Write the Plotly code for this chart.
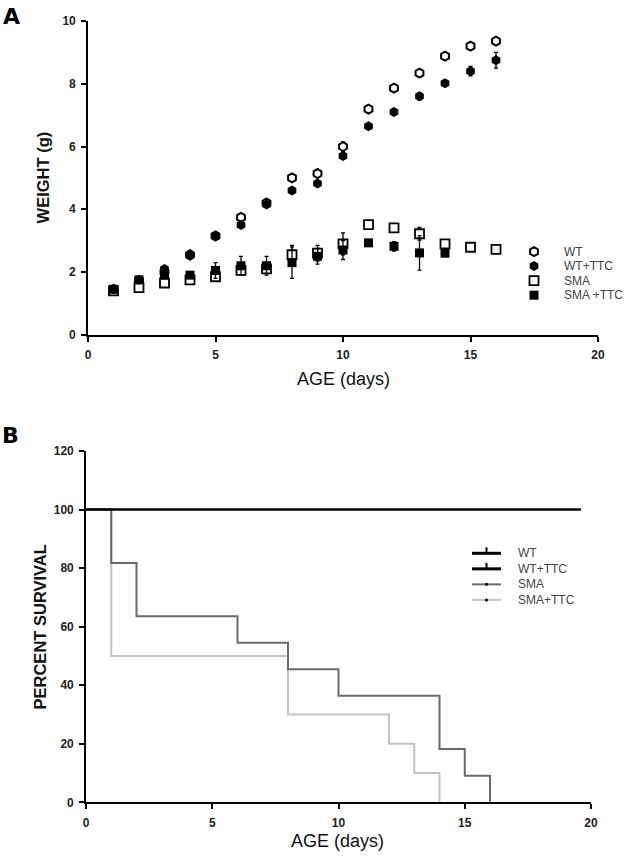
import plotly.graph_objects as go

W, H = 633, 858

# ---- Panel A data: weight (g) by age (days) ----
days = list(range(1, 17))
wt = [1.45, 1.7, 2.0, 2.55, 3.15, 3.74, 4.2, 5.0, 5.14, 6.0, 7.19, 7.86, 8.34, 8.88, 9.2, 9.36]
wt_err = [0, 0, 0, 0, 0, 0.1, 0, 0, 0, 0.15, 0, 0, 0, 0, 0, 0]
wt_ttc = [1.45, 1.75, 2.1, 2.52, 3.13, 3.5, 4.15, 4.6, 4.82, 5.7, 6.65, 7.1, 7.6, 8.02, 8.4, 8.75]
wt_ttc_err = [0, 0, 0, 0, 0, 0, 0, 0, 0, 0, 0, 0.05, 0.12, 0, 0.15, 0.25]
sma = [1.4, 1.5, 1.65, 1.75, 1.85, 2.05, 2.1, 2.55, 2.6, 2.9, 3.51, 3.41, 3.22, 2.9, 2.79, 2.72]
sma_err = [0, 0, 0, 0, 0.15, 0, 0, 0.3, 0.25, 0.35, 0, 0, 0.2, 0, 0, 0]
sma_ttc = [1.45, 1.75, 1.9, 1.9, 2.05, 2.2, 2.2, 2.3, 2.5, 2.7, 2.93, 2.82, 2.61, 2.6]
sma_ttc_err = [0, 0, 0.1, 0, 0.25, 0.3, 0.3, 0.5, 0.25, 0.3, 0.1, 0.15, 0.55, 0.1]
legendA_labels = ["WT", "WT+TTC", "SMA", "SMA +TTC"]

# ---- Panel B data: Kaplan-Meier survival ----
wt_t = [0, 19.6]
wt_s = [100, 100]
sma_t = [0, 1, 2, 6, 8, 10, 14, 15, 16]
sma_s = [100, 81.8, 63.6, 54.5, 45.5, 36.4, 18.2, 9.1, 0]
smattc_t = [0, 1, 8, 12, 13, 14]
smattc_s = [100, 50, 30, 20, 10, 0]
legendB_labels = ["WT", "WT+TTC", "SMA", "SMA+TTC"]

xticks = [0, 5, 10, 15, 20]
yticksA = [0, 2, 4, 6, 8, 10]
yticksB = [0, 20, 40, 60, 80, 100, 120]

# observed inset of the drawing area inside the page (pixels)
IL, IR, IT, IB = 4, 6, 8, 8

def px(x):
    return (x - IL) / (W - IL - IR)

def py(y):
    return 1 - (y - IT) / (H - IT - IB)

fig = go.Figure()

def err(arr):
    return dict(type="data", array=arr, visible=True, color="black", thickness=1.3, width=2)

# Panel A traces
styleA = {
    "WT": dict(symbol="hexagon", size=9, color="white", line=dict(color="black", width=2)),
    "SMA": dict(symbol="square", size=9, color="white", line=dict(color="black", width=1.8)),
    "WT+TTC": dict(symbol="hexagon", size=10, color="black", line=dict(color="black", width=0)),
    "SMA +TTC": dict(symbol="square", size=9, color="black", line=dict(color="black", width=0)),
}
fig.add_trace(go.Scatter(x=days, y=wt, mode="markers", error_y=err(wt_err), marker=styleA["WT"],
                         xaxis="x", yaxis="y", cliponaxis=False))
fig.add_trace(go.Scatter(x=days, y=sma, mode="markers", error_y=err(sma_err), marker=styleA["SMA"],
                         xaxis="x", yaxis="y", cliponaxis=False))
fig.add_trace(go.Scatter(x=days, y=wt_ttc, mode="markers", error_y=err(wt_ttc_err), marker=styleA["WT+TTC"],
                         xaxis="x", yaxis="y", cliponaxis=False))
fig.add_trace(go.Scatter(x=days[:len(sma_ttc)], y=sma_ttc, mode="markers", error_y=err(sma_ttc_err),
                         marker=styleA["SMA +TTC"], xaxis="x", yaxis="y", cliponaxis=False))

# Panel B traces
colB = {"WT": "black", "WT+TTC": "black", "SMA": "#6a6a6a", "SMA+TTC": "#c4c4c4"}
fig.add_trace(go.Scatter(x=smattc_t, y=smattc_s, mode="lines", line=dict(color=colB["SMA+TTC"], width=2, shape="hv"),
                         xaxis="x2", yaxis="y2"))
fig.add_trace(go.Scatter(x=sma_t, y=sma_s, mode="lines", line=dict(color=colB["SMA"], width=2, shape="hv"),
                         xaxis="x2", yaxis="y2"))
fig.add_trace(go.Scatter(x=wt_t, y=wt_s, mode="lines", line=dict(color=colB["WT"], width=2.5, shape="hv"),
                         xaxis="x2", yaxis="y2"))

# ---- Legends (compact rows, drawn on a pixel overlay axis) ----
legA_x, legA_text_x, legA_y0, legA_dy = 535, 563, 252, 14.5
legB_x0, legB_x1, legB_text_x, legB_y0, legB_dy = 473, 502, 517, 553, 15.5

for i, lab in enumerate(legendA_labels):
    yy = legA_y0 + i * legA_dy
    fig.add_trace(go.Scatter(x=[legA_x], y=[yy], mode="markers", marker=styleA[lab],
                             xaxis="x3", yaxis="y3", cliponaxis=False))
    fig.add_annotation(text=lab, x=px(legA_text_x), y=py(yy), xref="paper", yref="paper",
                       xanchor="left", yanchor="middle", showarrow=False,
                       font=dict(family="Liberation Sans, Arial", size=12, color="#444444"))

for i, lab in enumerate(legendB_labels):
    yy = legB_y0 + i * legB_dy
    xm = (legB_x0 + legB_x1) / 2
    wdt = 3 if i < 2 else 2
    fig.add_trace(go.Scatter(x=[legB_x0, legB_x1], y=[yy, yy], mode="lines",
                             line=dict(color=colB[lab], width=wdt), xaxis="x3", yaxis="y3"))
    if i < 2:
        fig.add_trace(go.Scatter(x=[xm, xm], y=[yy, yy - 6], mode="lines",
                                 line=dict(color="black", width=2), xaxis="x3", yaxis="y3"))
    else:
        fig.add_trace(go.Scatter(x=[xm], y=[yy], mode="markers",
                                 marker=dict(symbol="circle", size=3, color="black"), xaxis="x3", yaxis="y3"))
    fig.add_annotation(text=lab, x=px(legB_text_x), y=py(yy), xref="paper", yref="paper",
                       xanchor="left", yanchor="middle", showarrow=False,
                       font=dict(family="Liberation Sans, Arial", size=12, color="#444444"))

axis_common = dict(showgrid=False, zeroline=False, showline=True, linecolor="black", linewidth=1.6,
                   ticks="outside", ticklen=5, tickwidth=1.6, tickcolor="black", mirror=False,
                   ticklabelstandoff=3,
                   tickfont=dict(family="Liberation Sans, Arial", size=12, color="#222222", weight="bold"))

fig.update_layout(
    width=W, height=H, margin=dict(l=0, r=0, t=0, b=0),
    paper_bgcolor="white", plot_bgcolor="rgba(0,0,0,0)", showlegend=False,
    xaxis=dict(domain=[px(89), px(599)], range=[0, 20], tickvals=xticks, anchor="y", **axis_common),
    yaxis=dict(domain=[py(335), py(22)], range=[0, 10], tickvals=yticksA, anchor="x", **axis_common),
    xaxis2=dict(domain=[px(87), px(592)], range=[0, 20], tickvals=xticks, anchor="y2", **axis_common),
    yaxis2=dict(domain=[py(801.5), py(451)], range=[0, 120], tickvals=yticksB, anchor="x2", **axis_common),
    xaxis3=dict(domain=[0, 1], range=[IL, W - IR], visible=False, fixedrange=True, anchor="y3"),
    yaxis3=dict(domain=[0, 1], range=[H - IB, IT], visible=False, fixedrange=True, anchor="x3"),
)

ann_font = dict(family="Liberation Sans, Arial", color="#111111")
def ann(text, x, y, size, angle=0, family=None, color=None):
    f = dict(size=size, **ann_font)
    if family:
        f["family"] = family
    if color:
        f["color"] = color
    fig.add_annotation(text=text, x=px(x), y=py(y), xref="paper", yref="paper",
                       xanchor="center", yanchor="middle", showarrow=False, textangle=angle, font=f)

ann("<b>WEIGHT (g)</b>", 44, 178, 16.5, angle=-90)
ann("AGE (days)", 344, 379, 18)
ann("<b>PERCENT SURVIVAL</b>", 41, 627, 16.5, angle=-90)
ann("AGE (days)", 338, 840, 18)
ann("<b>A</b>", 12, 17, 22, family="DejaVu Sans", color="black")
ann("<b>B</b>", 11, 435, 22, family="DejaVu Sans", color="black")

fig.write_html("out.html", config={"displayModeBar": False},
               post_script="document.body.style.margin='0';document.documentElement.style.overflow='hidden';document.body.style.overflow='hidden';")
